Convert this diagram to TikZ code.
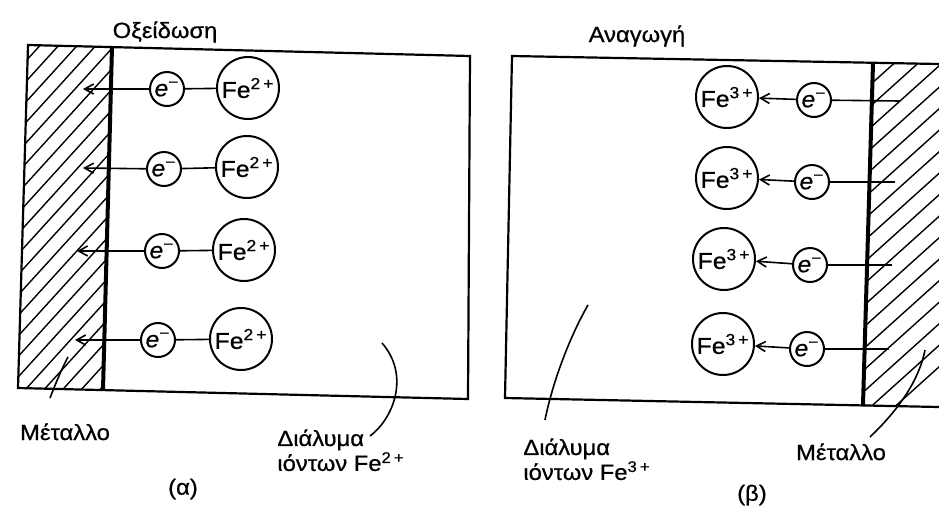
\documentclass[tikz,border=0pt]{standalone}
\usepackage{fontspec}
\setmainfont{Liberation Sans}[FakeStretch=1.08,FakeBold=0.7]
\usetikzlibrary{arrows.meta}
\begin{document}
\begin{tikzpicture}[x=0.5pt,y=-0.5pt,
  box/.style={line width=1.1pt, line join=miter},
  wall/.style={line width=2pt},
  ion/.style={circle, draw, line width=1pt, minimum size=31pt, inner sep=0pt, font=\fontsize{11.5}{12}\selectfont},
  elec/.style={circle, draw, line width=1pt, minimum size=17pt, inner sep=0pt, font=\fontsize{11.5}{12}\selectfont},
  link/.style={line width=0.8pt},
  flow/.style={line width=0.8pt, -{Straight Barb[length=4.5pt,width=5pt]}},
  hatch/.style={line width=0.7pt},
  lbl/.style={font=\fontsize{11}{11}\selectfont, inner sep=0pt},
  lead/.style={line width=0.8pt}
]
\useasboundingbox (0,0) rectangle (939,505);

% ---- panel (a) ----
\begin{scope}
  \clip (28,45) -- (112,47) -- (103,390) -- (18,388) -- cycle;
  \foreach \k in {0,...,23} { \draw[hatch] (0,48.5+\k*20.5) -- ++(150,-165); }
\end{scope}
\draw[box] (28,45) -- (470,56) -- (468,399) -- (18,388) -- cycle;
\draw[wall] (112,47) -- (103,390);

\node[ion] (fa1) at (248,88) {Fe\textsuperscript{2\kern1.5pt+}};
\node[ion] (fa2) at (247,167) {Fe\textsuperscript{2\kern1.5pt+}};
\node[ion] (fa3) at (244,250) {Fe\textsuperscript{2\kern1.5pt+}};
\node[ion] (fa4) at (241,339) {Fe\textsuperscript{2\kern1.5pt+}};
\node[elec] (ea1) at (167,89) {\textit{e}\textsuperscript{−}};
\node[elec] (ea2) at (164,169) {\textit{e}\textsuperscript{−}};
\node[elec] (ea3) at (162,251) {\textit{e}\textsuperscript{−}};
\node[elec] (ea4) at (158,340) {\textit{e}\textsuperscript{−}};
\coordinate (ta1) at (83,89);
\coordinate (ta2) at (83,168);
\coordinate (ta3) at (77,251);
\coordinate (ta4) at (75,340);
\foreach \i in {1,2,3,4} {
  \draw[link] (fa\i) -- (ea\i);
  \draw[flow] (ea\i) -- (ta\i);
}

% ---- panel (b) ----
\begin{scope}
  \clip (873,63) -- (939,64) -- (939,407) -- (863,405) -- cycle;
  \foreach \k in {0,...,18} { \draw[hatch] (850,60+\k*21.5) -- ++(120,-108); }
\end{scope}
\draw[box] (939,64) -- (512,56) -- (505,398) -- (939,407);
\draw[wall] (873,63) -- (863,405);

\node[ion] (fb1) at (727,97) {Fe\textsuperscript{3\kern1.5pt+}};
\node[ion] (fb2) at (727,178) {Fe\textsuperscript{3\kern1.5pt+}};
\node[ion] (fb3) at (724,259) {Fe\textsuperscript{3\kern1.5pt+}};
\node[ion] (fb4) at (723,344) {Fe\textsuperscript{3\kern1.5pt+}};
\node[elec] (eb1) at (814,100) {\textit{e}\textsuperscript{−}};
\node[elec] (eb2) at (812,182) {\textit{e}\textsuperscript{−}};
\node[elec] (eb3) at (810,265) {\textit{e}\textsuperscript{−}};
\node[elec] (eb4) at (807,349) {\textit{e}\textsuperscript{−}};
\coordinate (sb1) at (900,101);
\coordinate (sb2) at (895,182);
\coordinate (sb3) at (892,265);
\coordinate (sb4) at (889,349);
\foreach \i in {1,2,3,4} {
  \draw[link] (sb\i) -- (eb\i);
  \draw[flow] (eb\i) -- (fb\i);
}

% ---- labels ----
\node[lbl, anchor=base] (tOx) at (165,38) {Οξείδωση};
\node[lbl, anchor=base] (tRed) at (637,42) {Αναγωγή};
\node[lbl, anchor=base] (mA) at (65,440) {Μέταλλο};
\node[lbl, anchor=base] (mB) at (841,460) {Μέταλλο};
\node[lbl, anchor=north west, align=left] (sA) at (277,429) {Διάλυμα\\ιόντων Fe\textsuperscript{2\kern1.5pt+}};
\node[lbl, anchor=north west, align=left] (sB) at (523,438) {Διάλυμα\\ιόντων Fe\textsuperscript{3\kern1.5pt+}};
\node[lbl] (capA) at (183,489) {(α)};
\node[lbl] (capB) at (752,495) {(β)};

% ---- leaders ----
\coordinate (lmA1) at (50,398);
\coordinate (lmA2) at (68,357);
\draw[lead] (lmA1) .. controls (55,385) and (62,368) .. (lmA2);
\coordinate (lsA1) at (370,436);
\coordinate (lsA2) at (382,343);
\draw[lead] (lsA1) .. controls (394,418) and (410,375) .. (lsA2);
\coordinate (lsB1) at (545,420);
\coordinate (lsB2) at (588,305);
\draw[lead] (lsB1) .. controls (552,385) and (568,340) .. (lsB2);
\coordinate (lmB1) at (870,437);
\coordinate (lmB2) at (925,350);
\draw[lead] (lmB1) .. controls (893,415) and (918,385) .. (lmB2);
\end{tikzpicture}
\end{document}
